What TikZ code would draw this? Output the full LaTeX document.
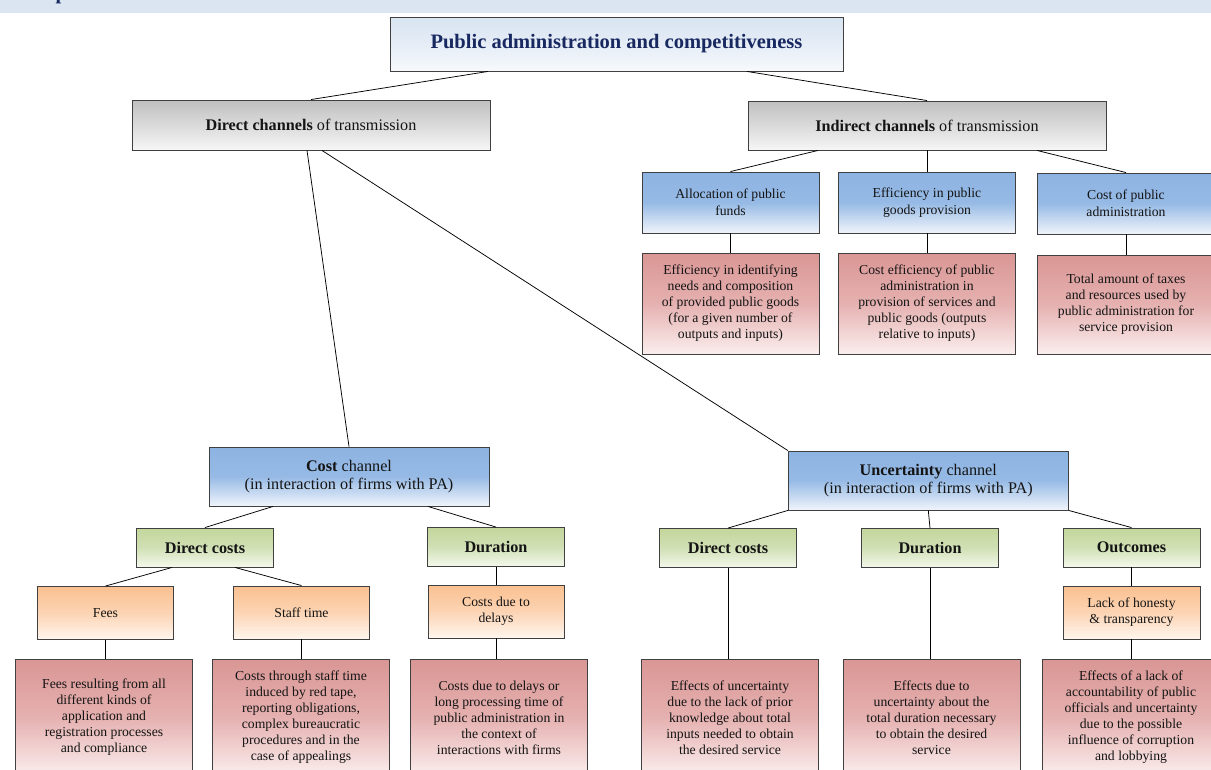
\documentclass[tikz,border=0pt]{standalone}
\usepackage{fontspec}
\setmainfont{Liberation Serif}
\usetikzlibrary{calc}

% palette
\definecolor{bannercol}{RGB}{219,229,241}
\definecolor{titletext}{RGB}{24,40,96}
\definecolor{bordercol}{RGB}{64,64,64}
\definecolor{textcol}{RGB}{20,20,20}

\definecolor{titleT}{RGB}{216,228,241}\definecolor{titleM}{RGB}{229,237,246}\definecolor{titleB}{RGB}{247,249,252}
\definecolor{grayT}{RGB}{192,192,192}\definecolor{grayM}{RGB}{218,218,218}\definecolor{grayB}{RGB}{246,246,246}
\definecolor{blueT}{RGB}{141,179,226}\definecolor{blueM}{RGB}{150,186,229}\definecolor{blueB}{RGB}{240,244,251}
\definecolor{redT}{RGB}{217,150,148}\definecolor{redM}{RGB}{229,177,176}\definecolor{redB}{RGB}{251,238,238}
\definecolor{orangeT}{RGB}{250,192,144}\definecolor{orangeM}{RGB}{252,212,180}\definecolor{orangeB}{RGB}{255,246,238}
\definecolor{greenT}{RGB}{195,214,155}\definecolor{greenM}{RGB}{209,224,181}\definecolor{greenB}{RGB}{244,248,236}

% vertical fade: name, top, middle, bottom
\newcommand{\fadeshading}[4]{%
  \pgfdeclareverticalshading{#1}{100bp}{color(0bp)=(#4); color(25bp)=(#4);
    color(50bp)=(#3); color(75bp)=(#2); color(100bp)=(#2)}}
\fadeshading{titlefade}{titleT}{titleM}{titleB}
\fadeshading{grayfade}{grayT}{grayM}{grayB}
\fadeshading{bluefade}{blueT}{blueM}{blueB}
\fadeshading{redfade}{redT}{redM}{redB}
\fadeshading{orangefade}{orangeT}{orangeM}{orangeB}
\fadeshading{greenfade}{greenT}{greenM}{greenB}

\tikzset{
  boxbase/.style={draw=bordercol, line width=0.9pt, inner sep=0pt, align=center, text=textcol, shade},
  titlebox/.style={boxbase, shading=titlefade, text=titletext,
    font=\fontsize{20.5}{24}\selectfont\bfseries},
  graybox/.style={boxbase, shading=grayfade, minimum width=358pt, minimum height=50pt,
    font=\fontsize{16.2}{18.5}\selectfont},
  bluesmall/.style={boxbase, shading=bluefade, minimum width=177pt, minimum height=61pt,
    font=\fontsize{13.7}{17}\selectfont},
  bluebig/.style={boxbase, shading=bluefade, minimum width=280pt, minimum height=59pt,
    font=\fontsize{16.2}{18.5}\selectfont},
  redtop/.style={boxbase, shading=redfade, minimum width=177pt, minimum height=101pt,
    font=\fontsize{13.7}{16}\selectfont},
  redlow/.style={boxbase, shading=redfade, minimum width=177pt, minimum height=117pt,
    font=\fontsize{13.7}{16}\selectfont},
  greenbox/.style={boxbase, shading=greenfade, minimum width=137pt, minimum height=39pt,
    font=\fontsize{16.2}{18.5}\selectfont\bfseries},
  orangebox/.style={boxbase, shading=orangefade, minimum width=136pt, minimum height=53pt,
    font=\fontsize{13.7}{16}\selectfont},
  link/.style={draw=black, line width=0.75pt},
}

\begin{document}
\begin{tikzpicture}[x=1pt,y=-1pt]
\useasboundingbox (0,0) rectangle (1211,769);

% heading band
\fill[bannercol] (0,0) rectangle (1211,13);
\node[anchor=base west, inner sep=0pt, text=titletext,
  font=\fontsize{20.5}{24}\selectfont\bfseries] (headcut) at (55.5,-0.5) {p};

% top level
\node[titlebox, minimum width=453pt, minimum height=54pt] (title) at (616.5,44)
  {Public administration and competitiveness};
\node[graybox] (dch) at (311,125) {\textbf{Direct channels} of transmission};
\node[graybox, minimum height=49pt] (ich) at (927,125.5) {\textbf{Indirect channels} of transmission};

% indirect branch
\node[bluesmall] (alloc) at (730.5,202.5) {Allocation of public\\funds};
\node[bluesmall] (effic) at (927,202.5) {Efficiency in public\\goods provision};
\node[bluesmall] (costpa) at (1126,203.5) {Cost of public\\administration};
\node[redtop] (allocr) at (730.5,303.5) {Efficiency in identifying\\needs and composition\\of provided public goods\\(for a given number of\\outputs and inputs)};
\node[redtop] (efficr) at (927,303.5) {Cost efficiency of public\\administration in\\provision of services and\\public goods (outputs\\relative to inputs)};
\node[redtop, minimum height=99pt] (costpar) at (1126,304.5) {Total amount of taxes\\and resources used by\\public administration for\\service provision};

% channels
\node[bluebig] (costch) at (349,476.5) {\textbf{Cost} channel\\(in interaction of firms with PA)};
\node[bluebig] (uncch) at (928.3,480.5) {\textbf{Uncertainty} channel\\(in interaction of firms with PA)};

% cost channel branch
\node[greenbox] (dca) at (205,547.5) {Direct costs};
\node[greenbox] (dura) at (496,547) {Duration};
\node[orangebox] (fees) at (105.5,613) {Fees};
\node[orangebox] (staff) at (301.5,612.5) {Staff time};
\node[orangebox] (delay) at (496,611.5) {Costs due to\\delays};
\node[redlow] (feesr) at (104,717.5) {Fees resulting from all\\different kinds of\\application and\\registration processes\\and compliance};
\node[redlow] (staffr) at (301,717.5) {Costs through staff time\\induced by red tape,\\reporting obligations,\\complex bureaucratic\\procedures and in the\\case of appealings};
\node[redlow] (delayr) at (499,717.5) {Costs due to delays or\\long processing time of\\public administration in\\the context of\\interactions with firms};

% uncertainty channel branch
\node[greenbox] (dcb) at (728,548) {Direct costs};
\node[greenbox] (durb) at (930,548) {Duration};
\node[greenbox] (outc) at (1131.5,547.5) {Outcomes};
\node[orangebox, minimum width=137pt] (honest) at (1131.5,612.5) {Lack of honesty\\\& transparency};
\node[redlow] (uncr1) at (730,717.5) {Effects of uncertainty\\due to the lack of prior\\knowledge about total\\inputs needed to obtain\\the desired service};
\node[redlow] (uncr2) at (931.5,717.5) {Effects due to\\uncertainty about the\\total duration necessary\\to obtain the desired\\service};
\node[redlow, minimum width=178pt] (uncr3) at (1131,717.5) {Effects of a lack of\\accountability of public\\officials and uncertainty\\due to the possible\\influence of corruption\\and lobbying};

% connectors
\draw[link] ($(title.south)+(-128.5,0)$) -- (dch.north);
\draw[link] ($(title.south)+(130.5,0)$) -- (ich.north);
\draw[link] ($(dch.south)+(-4,0)$) -- (costch.north);
\draw[link] ($(dch.south)+(11,0)$) -- (uncch.north west);

\draw[link] ($(ich.south)+(-109,0)$) -- (alloc.north);
\draw[link] (ich.south) -- (effic.north);
\draw[link] ($(ich.south)+(110,0)$) -- (costpa.north);
\draw[link] (alloc.south) -- (allocr.north);
\draw[link] (effic.south) -- (efficr.north);
\draw[link] (costpa.south) -- (costpar.north);

\draw[link] ($(costch.south)+(-76,0)$) -- (dca.north);
\draw[link] ($(costch.south)+(79,0)$) -- (dura.north);
\draw[link] ($(dca.south)+(-33,0)$) -- (fees.north);
\draw[link] ($(dca.south)+(30,0)$) -- (staff.north);
\draw[link] (dura.south) -- (delay.north);
\draw[link] (fees.south) -- (fees.south |- feesr.north);
\draw[link] (staff.south) -- (staff.south |- staffr.north);
\draw[link] (delay.south) -- (delay.south |- delayr.north);

\draw[link] (uncch.south west) -- (dcb.north);
\draw[link] (uncch.south) -- (durb.north);
\draw[link] (uncch.south east) -- (outc.north);
\draw[link] (dcb.south) -- (dcb.south |- uncr1.north);
\draw[link] (durb.south) -- (durb.south |- uncr2.north);
\draw[link] (outc.south) -- (honest.north);
\draw[link] (honest.south) -- (honest.south |- uncr3.north);
\end{tikzpicture}
\end{document}
